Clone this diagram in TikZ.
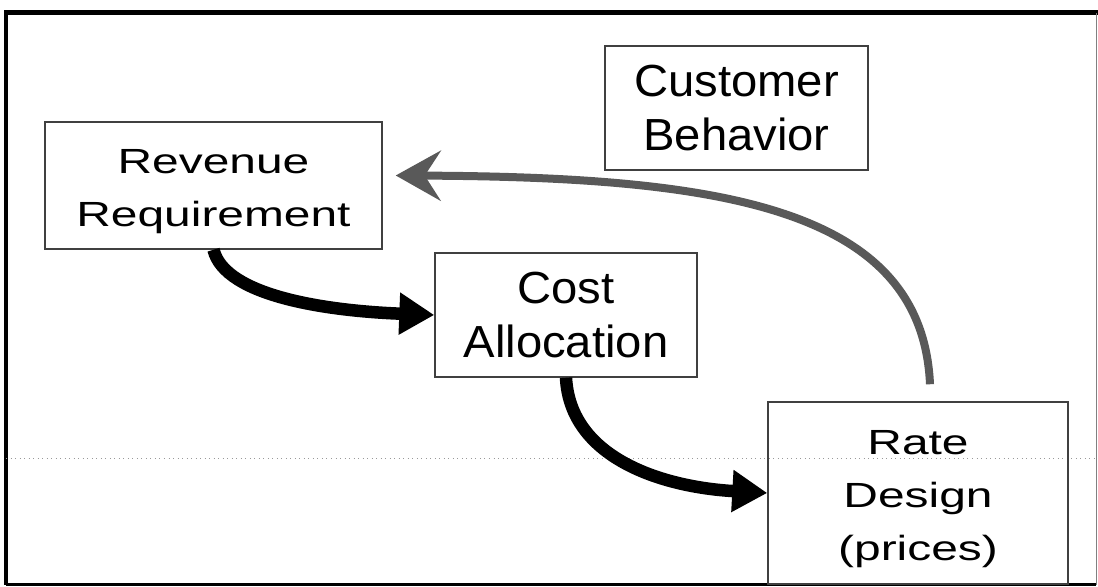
\documentclass[tikz,border=0pt]{standalone}
\usepackage{fontspec}
\setmainfont{Liberation Sans}
\usetikzlibrary{arrows.meta}
% widen each line of a box text by the factor its style sets
\newcommand{\sx}[1]{\scalebox{\xf}[1]{#1}}
\tikzset{
    box/.style={draw=black!75, line width=0.03cm, inner sep=0pt, align=center},
    flatbox/.style={box, font={\fontsize{19.9}{30.1}\selectfont\def\xf{1.37}}},
    tallbox/.style={box, font={\fontsize{25.6}{30.7}\selectfont\def\xf{1.05}}},
    flow/.style={line width=0.25cm, -{Triangle[length=0.7cm, width=0.8cm]}},
    feedback/.style={line width=0.16cm, black!65, -{Stealth[length=0.9cm, width=1.0cm, inset=0.32cm]}},
}
\begin{document}
\begin{tikzpicture}[x=0.02cm, y=0.02cm]
    \useasboundingbox (0,0) rectangle (1098,587);
    \draw[line width=0.1cm]             (6,2) -- (6,574) -- (1098,574);
    \draw[line width=0.06cm]            (6,2) -- (1096,2);
    \draw[line width=0.02cm, black!50]  (1096,2) -- (1096,574);
    \draw[black!40, dotted, line width=0.02cm] (6,128) -- (1098,128);

    \node[flatbox, minimum width=6.74cm, minimum height=2.54cm] (rev)  at (213.5,401.5) {\strut\sx{Revenue}\\\sx{Requirement}};
    \node[tallbox, minimum width=5.24cm, minimum height=2.48cm] (cost) at (566,272)     {\sx{Cost}\\\sx{Allocation}};
    \node[flatbox, minimum width=6.0cm,  minimum height=3.64cm] (rate) at (918,94)      {\strut\sx{Rate}\\\sx{Design}\\\sx{(prices)}};
    \node[tallbox, minimum width=5.26cm, minimum height=2.48cm] (cust) at (736.5,479)   {\sx{Customer}\\\sx{Behavior}};

    \draw[flow]     (rev.south) .. controls (225,290) and (330,276) .. (cost.west);
    \draw[flow]     (cost.south) .. controls (570,130) and (660,100) .. (rate.west);
    \draw[feedback] ([shift={(12,17)}]rate.north) .. controls (922,380) and (720,410) .. ([shift={(13,10)}]rev.east);
\end{tikzpicture}
\end{document}
